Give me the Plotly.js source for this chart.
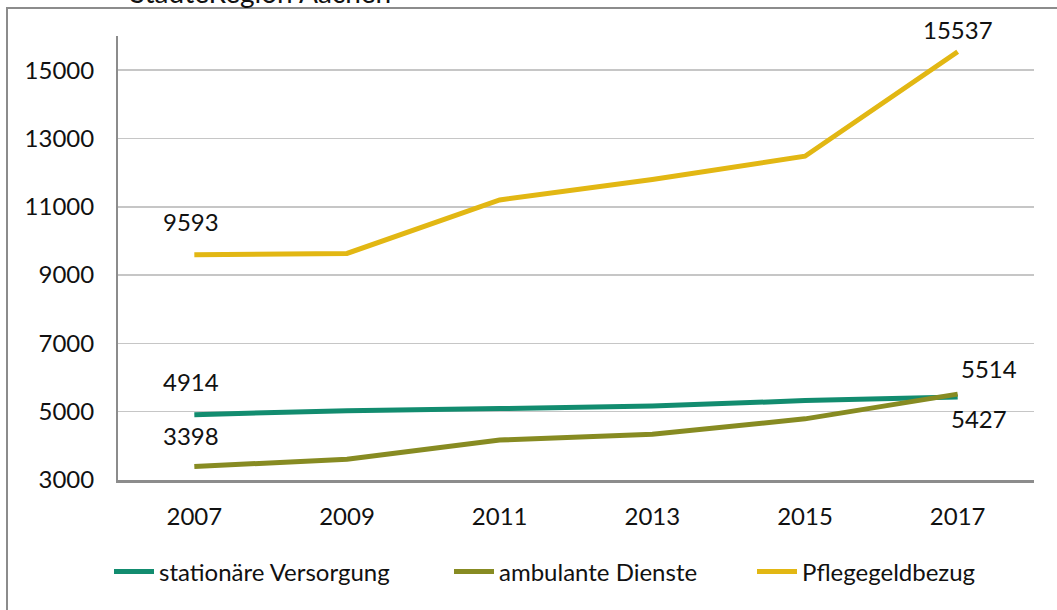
<!DOCTYPE html>
<html>
<head>
<meta charset="utf-8">
<script src="https://cdn.plot.ly/plotly-3.0.1.min.js"></script>
<style>html,body{margin:0;padding:0;background:#fff;}#chart{width:1057px;height:610px;}</style>
</head>
<body>
<div id="chart"></div>
<script>
const years = ['2007','2009','2011','2013','2015','2017'];
const stationaer = [4914, 5030, 5090, 5165, 5325, 5427];
const ambulant = [3398, 3606, 4171, 4338, 4790, 5514];
const pflegegeld = [9593, 9635, 11200, 11800, 12480, 15537];
const seriesNames = ['stationäre Versorgung', 'ambulante Dienste', 'Pflegegeldbezug'];
const yTicks = [3000, 5000, 7000, 9000, 11000, 13000, 15000];
const colors = ['#128c6f', '#878b22', '#e2b713'];
const titleText = 'StädteRegion Aachen';

const W = 1057, H = 610;
const L = 118, R = 23, T = 36, B = 130;
const pw = W - L - R, ph = H - T - B;
const px = v => (v - L) / pw;
const py = v => (H - B - v) / ph;

const font = 'Lato, "Open Sans", sans-serif';
const FS = 24;
const legendNames = ['legend', 'legend2', 'legend3'];
const all = [stationaer, ambulant, pflegegeld];
const traces = all.map((d, i) => ({
  x: years, y: d, type: 'scatter', mode: 'lines', name: seriesNames[i],
  legend: legendNames[i],
  line: {color: colors[i], width: 5}, hoverinfo: 'skip'
}));

const last = years.length - 1;
const ann = [
  {x: 0, y: pflegegeld[0], text: String(pflegegeld[0]), yshift: 33, xshift: -3},
  {x: last, y: pflegegeld[last], text: String(pflegegeld[last]), yshift: 22},
  {x: 0, y: stationaer[0], text: String(stationaer[0]), yshift: 33, xshift: -3},
  {x: 0, y: ambulant[0], text: String(ambulant[0]), yshift: 31, xshift: -3},
  {x: last, y: ambulant[last], text: String(ambulant[last]), yshift: 26, xshift: 31},
  {x: last, y: stationaer[last], text: String(stationaer[last]), yshift: -21, xshift: 21}
].map(a => Object.assign({xref: 'x', yref: 'y', showarrow: false, font: {family: font, size: FS, color: '#111'}}, a));

ann.push({xref: 'paper', yref: 'paper', x: px(260), y: py(-8), text: titleText, showarrow: false,
  xanchor: 'center', yanchor: 'middle', font: {family: font, size: 28, color: '#111'}});

const legendText = [160, 500, 803];
const mkLegend = t => ({orientation: 'h', x: px(t - 51), xanchor: 'left', y: py(572), yanchor: 'middle',
  font: {family: font, size: FS, color: '#111'}, bgcolor: 'rgba(0,0,0,0)', itemwidth: 40});

const layout = {
  width: W, height: H,
  margin: {l: L, r: R, t: T, b: B},
  paper_bgcolor: '#fff', plot_bgcolor: '#fff',
  font: {family: font, size: FS, color: '#111'},
  xaxis: {type: 'category', range: [-0.5, 5.5], showgrid: false, zeroline: false,
    showline: true, linecolor: '#8c8c8c', linewidth: 2.5, ticks: '', ticklabelstandoff: 14,
    tickfont: {family: font, size: FS, color: '#111'}},
  yaxis: {range: [3000, 16000], tickvals: yTicks, ticktext: yTicks.map(String),
    showgrid: true, gridcolor: '#c6c6c6', gridwidth: 1.5, zeroline: false,
    showline: true, linecolor: '#8c8c8c', linewidth: 2, ticks: '', ticklabelstandoff: 17,
    tickfont: {family: font, size: FS, color: '#111'}},
  showlegend: true,
  legend: mkLegend(legendText[0]),
  legend2: mkLegend(legendText[1]),
  legend3: mkLegend(legendText[2]),
  annotations: ann,
  shapes: [{type: 'path', xref: 'paper', yref: 'paper',
    path: `M ${px(1070)} ${py(8)} L ${px(7)} ${py(8)} L ${px(7)} ${py(620)}`,
    line: {color: '#8c8c8c', width: 2}}]
};

Plotly.newPlot('chart', traces, layout, {staticPlot: true, displayModeBar: false});
</script>
</body>
</html>
